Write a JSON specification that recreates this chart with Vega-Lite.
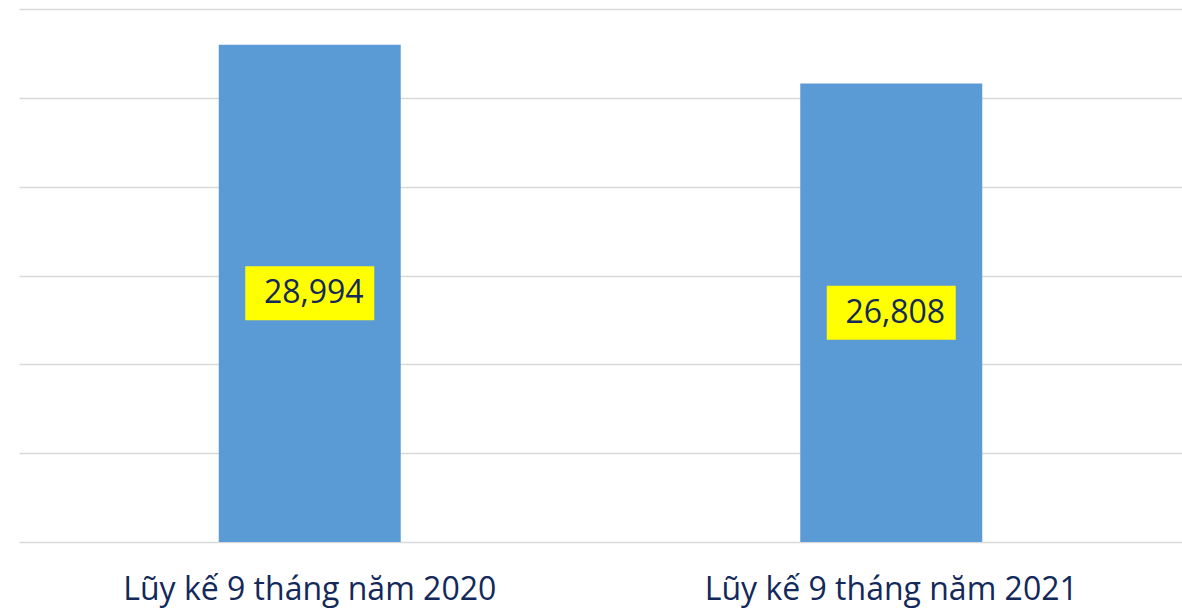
{
  "$schema": "https://vega.github.io/schema/vega-lite/v6.json",
  "width": 1163,
  "height": 533,
  "autosize": {"type": "none"},
  "padding": {"left": 19, "top": 9, "right": 0, "bottom": 68},
  "background": "white",
  "config": {"view": {"stroke": null}},
  "data": {
    "values": [
      {"period": "Lũy kế 9 tháng năm 2020", "value": 28994},
      {"period": "Lũy kế 9 tháng năm 2021", "value": 26808}
    ]
  },
  "encoding": {
    "x": {
      "field": "period",
      "type": "nominal",
      "sort": null,
      "scale": {"paddingInner": 0, "paddingOuter": 0},
      "axis": {
        "title": null,
        "labelAngle": 0,
        "ticks": false,
        "tickSize": 0,
        "domain": false,
        "grid": false,
        "labelLimit": 0,
        "labelFont": "Open Sans",
        "labelFontSize": 32,
        "labelColor": "#13295a",
        "labelPadding": 32
      }
    }
  },
  "layer": [
    {
      "mark": {"type": "bar", "color": "#5b9bd5", "width": 182},
      "encoding": {
        "y": {
          "field": "value",
          "type": "quantitative",
          "scale": {"domain": [1000, 31000], "zero": false, "nice": false},
          "axis": {
            "title": null,
            "values": [1000, 6000, 11000, 16000, 21000, 26000, 31000],
            "labels": false,
            "ticks": false,
            "domain": false,
            "grid": true,
            "gridColor": "#d9d9d9",
            "gridWidth": 1.5
          }
        },
        "y2": {"datum": 1000}
      }
    },
    {
      "transform": [{"calculate": "(datum.value + 1000) / 2", "as": "mid"}],
      "mark": {
        "type": "point",
        "shape": "M-1,-0.4186H1V0.4186H-1Z",
        "filled": true,
        "color": "#ffff00",
        "opacity": 1,
        "size": 16641
      },
      "encoding": {
        "y": {"field": "mid", "type": "quantitative"}
      }
    },
    {
      "transform": [{"calculate": "(datum.value + 1000) / 2", "as": "mid"}],
      "mark": {
        "type": "text",
        "font": "Open Sans",
        "fontSize": 32,
        "color": "#13295a",
        "dx": 4,
        "baseline": "middle"
      },
      "encoding": {
        "y": {"field": "mid", "type": "quantitative"},
        "text": {"field": "value", "type": "quantitative", "format": ",.0f"}
      }
    }
  ]
}
